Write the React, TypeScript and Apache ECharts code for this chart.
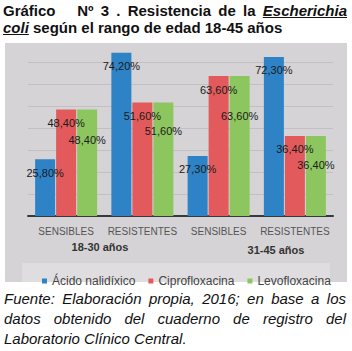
import React, { useEffect, useRef } from "react";
import * as echarts from "echarts";

const categories = ["SENSIBLES", "RESISTENTES", "SENSIBLES", "RESISTENTES"];
const ageGroups = ["18-30 años", "31-45 años"];
const seriesNames = ["Ácido nalidíxico", "Ciprofloxacina", "Levofloxacina"];
const acidoNalidixico = [25.8, 74.2, 27.3, 72.3];
const ciprofloxacina = [48.4, 51.6, 63.6, 36.4];
const levofloxacina = [48.4, 51.6, 63.6, 36.4];

const titleLine1 = "Gráfico\u00a0\u00a0 Nº 3 . Resistencia de la ";
const titleItalic1 = "Escherichia";
const titleItalic2 = "coli";
const titleLine2 = " según el rango de edad 18-45 años";
const footLines = [
  "Fuente: Elaboración propia, 2016; en base a los",
  "datos obtenido del cuaderno de registro del",
  "Laboratorio Clínico Central.",
];

const colors = ["#2d83c6", "#e25a5c", "#8dc65e"];
const levoLabelDrop = [25, 23, 34, 24];
const ageLabelPos = [
  [100, 247],
  [276, 250],
];

const fmt = (p: any) => p.value.toFixed(2).replace(".", ",") + "%";

export default function App() {
  const ref = useRef<HTMLDivElement>(null);
  useEffect(() => {
    if (!ref.current) return;
    const chart = echarts.init(ref.current, null, { renderer: "svg" });
    const labelBase = {
      show: true,
      position: "insideTop",
      distance: 8,
      formatter: fmt,
      color: "#1a1a1a",
      fontSize: 11,
      fontFamily: "'Liberation Sans', Arial, sans-serif",
    };
    chart.setOption({
      animation: false,
      backgroundColor: "#ffffff",
      grid: { left: 28, right: 19, top: 40, bottom: 135, containLabel: false },
      graphic: [
        {
          type: "rect",
          z: -10,
          shape: { x: 5, y: 43, width: 342, height: 239 },
          style: { fill: "#d5d3d5" },
        },
        {
          type: "rect",
          z: -9,
          shape: { x: 22, y: 263, width: 308, height: 19 },
          style: { fill: "#dfdddf" },
        },
        ...ageGroups.map((t, i) => ({
          type: "text",
          x: ageLabelPos[i][0],
          y: ageLabelPos[i][1],
          style: {
            text: t,
            fill: "#333333",
            font: "bold 11px 'Liberation Sans', Arial, sans-serif",
            textAlign: "center",
            textVerticalAlign: "middle",
          },
        })),
      ],
      legend: {
        left: 37,
        top: 270,
        itemWidth: 5,
        itemHeight: 5,
        itemGap: 13,
        icon: "rect",
        data: seriesNames,
        textStyle: {
          fontSize: 12,
          color: "#444444",
          fontFamily: "'Liberation Sans', Arial, sans-serif",
        },
      },
      xAxis: {
        type: "category",
        data: categories,
        axisLine: { lineStyle: { color: "#333a40", width: 2 } },
        axisTick: { show: false },
        axisLabel: {
          color: "#555555",
          fontSize: 10,
          margin: 10,
          interval: 0,
          fontFamily: "'Liberation Sans', Arial, sans-serif",
        },
      },
      yAxis: {
        type: "value",
        min: 0,
        max: 80,
        interval: 10,
        axisLabel: { show: false },
        axisLine: { show: false },
        axisTick: { show: false },
        splitLine: {
          show: true,
          showMinLine: false,
          showMaxLine: false,
          lineStyle: { color: "#c2c0c2", width: 1 },
        },
      },
      series: [
        {
          name: seriesNames[0],
          type: "bar",
          data: acidoNalidixico,
          barWidth: 20,
          barGap: "5%",
          itemStyle: { color: colors[0] },
          label: labelBase,
        },
        {
          name: seriesNames[1],
          type: "bar",
          data: ciprofloxacina,
          barWidth: 20,
          barGap: "5%",
          itemStyle: { color: colors[1] },
          label: labelBase,
        },
        {
          name: seriesNames[2],
          type: "bar",
          data: levofloxacina.map((v, i) => ({
            value: v,
            label: { distance: levoLabelDrop[i] },
          })),
          barWidth: 20,
          barGap: "5%",
          itemStyle: { color: colors[2] },
          label: labelBase,
        },
      ],
    });
    return () => chart.dispose();
  }, []);

  const titleFont = "bold 15px 'Liberation Sans', Arial, sans-serif";
  const footFont = "italic 15px 'Liberation Sans', Arial, sans-serif";
  const just: React.CSSProperties = {
    textAlign: "justify",
    textAlignLast: "justify",
    height: 17,
  };

  return (
    <div
      style={{
        position: "absolute",
        left: 0,
        top: 0,
        width: 352,
        height: 351,
        background: "#ffffff",
        overflow: "hidden",
      }}
    >
      <div ref={ref} style={{ position: "absolute", left: 0, top: 0, width: 352, height: 351 }} />
      <div
        style={{
          position: "absolute",
          left: 3,
          top: 2,
          width: 344,
          font: titleFont,
          lineHeight: "17px",
          color: "#111111",
        }}
      >
        <div style={just}>
          {titleLine1}
          <u>
            <i>{titleItalic1}</i>
          </u>
        </div>
        <div style={{ height: 17 }}>
          <u>
            <i>{titleItalic2}</i>
          </u>
          {titleLine2}
        </div>
      </div>
      <div
        style={{
          position: "absolute",
          left: 4,
          top: 289,
          width: 342,
          font: footFont,
          lineHeight: "20px",
          color: "#111111",
        }}
      >
        <div style={{ ...just, height: 20 }}>{footLines[0]}</div>
        <div style={{ ...just, height: 20 }}>{footLines[1]}</div>
        <div style={{ height: 20 }}>{footLines[2]}</div>
      </div>
    </div>
  );
}
